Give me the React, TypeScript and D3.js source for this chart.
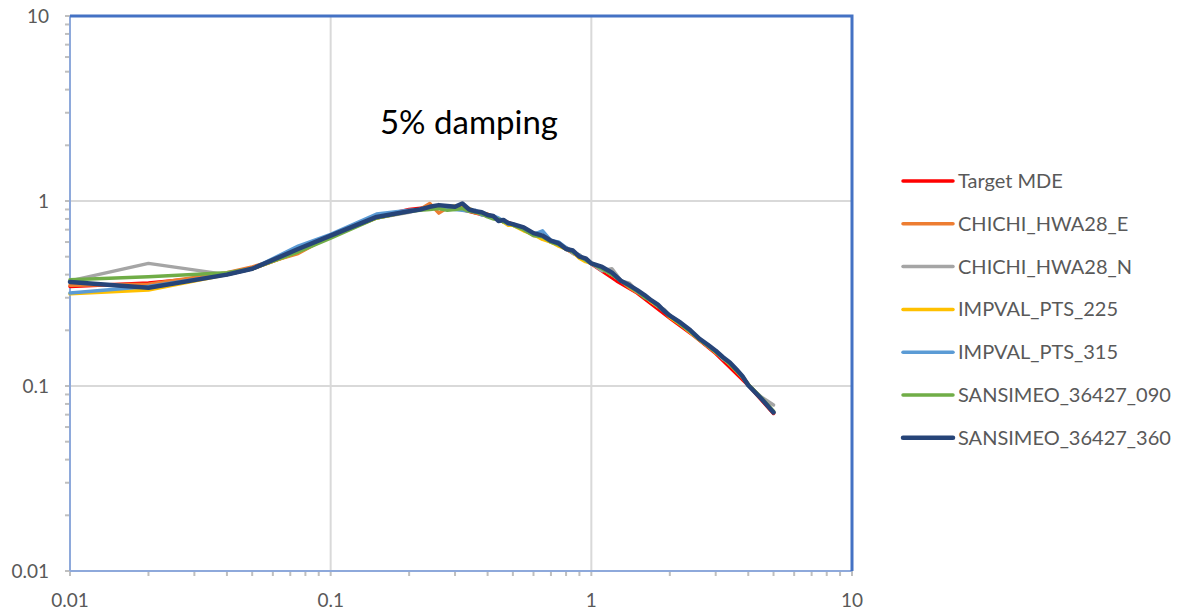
import { useEffect, useRef } from "react";
import * as d3 from "d3";

const W = 1181;
const H = 614;

// shared period grid of the records (s)
const recPeriods = [
  0.01, 0.02, 0.04, 0.05, 0.075, 0.1, 0.15, 0.2,
  0.22, 0.24, 0.26, 0.28, 0.3, 0.32, 0.34, 0.36, 0.38, 0.4, 0.42, 0.44, 0.46, 0.48, 0.5,
  0.55, 0.6, 0.65, 0.7, 0.75, 0.8, 0.85, 0.9, 0.95, 1.0,
  1.1, 1.2, 1.3, 1.4, 1.5, 1.6, 1.7, 1.8, 1.9, 2.0,
  2.2, 2.4, 2.6, 2.8, 3.0, 3.2, 3.4, 3.6, 3.8, 4.0,
  4.5, 5.0,
];

const targetPeriods = [0.01, 0.02, 0.03, 0.04, 0.05, 0.075, 0.1, 0.15, 0.2, 0.25, 0.3, 0.4, 0.5, 0.6, 0.75, 1, 1.25, 1.5, 2, 2.5, 3, 4, 5];
const targetMDE = [0.345, 0.36, 0.38, 0.4, 0.43, 0.53, 0.65, 0.82, 0.9, 0.93, 0.92, 0.83, 0.75, 0.67, 0.58, 0.458, 0.37, 0.318, 0.233, 0.185, 0.15, 0.101, 0.071];

const chichiE = [
  0.35, 0.355, 0.41, 0.44, 0.52, 0.65, 0.81, 0.88,
  0.9, 0.97, 0.86, 0.92, 0.93, 0.92, 0.9, 0.86, 0.86, 0.85, 0.82, 0.8, 0.77, 0.76, 0.74,
  0.7, 0.65, 0.64, 0.6, 0.58, 0.56, 0.53, 0.51, 0.48, 0.46,
  0.43, 0.4, 0.37, 0.34, 0.32, 0.305, 0.29, 0.27, 0.255, 0.24,
  0.215, 0.195, 0.177, 0.164, 0.152, 0.141, 0.131, 0.121, 0.112, 0.102,
  0.086, 0.072,
];
const chichiN = [
  0.37, 0.46, 0.4, 0.43, 0.54, 0.65, 0.81, 0.87,
  0.9, 0.91, 0.92, 0.94, 0.93, 0.92, 0.89, 0.88, 0.85, 0.83, 0.81, 0.8, 0.78, 0.75, 0.75,
  0.7, 0.66, 0.63, 0.6, 0.58, 0.56, 0.52, 0.51, 0.48, 0.46,
  0.42, 0.43, 0.37, 0.36, 0.325, 0.31, 0.285, 0.27, 0.26, 0.24,
  0.22, 0.195, 0.18, 0.165, 0.153, 0.14, 0.133, 0.122, 0.113, 0.101,
  0.087, 0.079,
];
const impval225 = [
  0.315, 0.33, 0.4, 0.43, 0.53, 0.64, 0.81, 0.88,
  0.9, 0.91, 0.93, 0.92, 0.94, 0.92, 0.91, 0.87, 0.85, 0.84, 0.81, 0.79, 0.77, 0.74, 0.74,
  0.69, 0.66, 0.62, 0.6, 0.57, 0.55, 0.53, 0.49, 0.47, 0.46,
  0.43, 0.4, 0.37, 0.345, 0.325, 0.305, 0.285, 0.27, 0.255, 0.235,
  0.215, 0.195, 0.178, 0.165, 0.152, 0.142, 0.131, 0.121, 0.111, 0.102,
  0.086, 0.072,
];
const impval315 = [
  0.318, 0.345, 0.4, 0.43, 0.57, 0.66, 0.85, 0.89,
  0.9, 0.92, 0.92, 0.91, 0.9, 0.89, 0.88, 0.89, 0.84, 0.84, 0.83, 0.81, 0.78, 0.75, 0.75,
  0.71, 0.66, 0.69, 0.61, 0.6, 0.56, 0.53, 0.51, 0.48, 0.46,
  0.43, 0.4, 0.37, 0.35, 0.325, 0.305, 0.29, 0.27, 0.255, 0.24,
  0.22, 0.197, 0.18, 0.165, 0.154, 0.142, 0.132, 0.122, 0.112, 0.101,
  0.086, 0.072,
];
const sansimeo090 = [
  0.375, 0.39, 0.41, 0.43, 0.53, 0.63, 0.81, 0.88,
  0.89, 0.9, 0.91, 0.89, 0.9, 0.91, 0.88, 0.87, 0.85, 0.82, 0.8, 0.8, 0.77, 0.76, 0.74,
  0.7, 0.65, 0.64, 0.6, 0.58, 0.55, 0.53, 0.5, 0.48, 0.46,
  0.43, 0.4, 0.37, 0.345, 0.325, 0.3, 0.29, 0.27, 0.255, 0.24,
  0.215, 0.197, 0.178, 0.165, 0.153, 0.142, 0.131, 0.121, 0.112, 0.102,
  0.086, 0.073,
];
const sansimeo360 = [
  0.365, 0.34, 0.4, 0.43, 0.55, 0.65, 0.82, 0.88,
  0.9, 0.93, 0.95, 0.94, 0.93, 0.97, 0.9, 0.88, 0.87, 0.84, 0.83, 0.78, 0.79, 0.76, 0.75,
  0.72, 0.67, 0.65, 0.61, 0.59, 0.55, 0.54, 0.5, 0.49, 0.46,
  0.44, 0.41, 0.37, 0.35, 0.33, 0.31, 0.29, 0.275, 0.255, 0.24,
  0.22, 0.2, 0.18, 0.167, 0.155, 0.143, 0.134, 0.123, 0.113, 0.101,
  0.085, 0.072,
];

const seriesNames = [
  "Target MDE",
  "CHICHI_HWA28_E",
  "CHICHI_HWA28_N",
  "IMPVAL_PTS_225",
  "IMPVAL_PTS_315",
  "SANSIMEO_36427_090",
  "SANSIMEO_36427_360",
];
const seriesColors = ["#FF0000", "#ED7D31", "#A5A5A5", "#FFC000", "#5B9BD5", "#70AD47", "#264478"];
const seriesWidths = [3.5, 3.5, 3.5, 3.5, 3.5, 3.5, 4.5];

const xTickLabels = ["0.01", "0.1", "1", "10"];
const yTickLabels = ["0.01", "0.1", "1", "10"];

const FONT = "Lato, 'Open Sans', sans-serif";

export default function App() {
  const svgRef = useRef<SVGSVGElement>(null);

  useEffect(() => {
    document.body.style.margin = "0";
    const svgEl = svgRef.current;
    if (!svgEl) return;

    const margin = { top: 16, left: 70, right: 852, bottom: 571 };
    const x = d3.scaleLog().domain([0.01, 10]).range([margin.left, margin.right]);
    const y = d3.scaleLog().domain([0.01, 10]).range([margin.bottom, margin.top]);

    const root = d3.select(svgEl);
    root.selectAll("*").remove();

    const decades = [0.01, 0.1, 1, 10];
    const minors: number[] = [];
    for (const d of [0.01, 0.1, 1]) {
      for (let k = 2; k <= 9; k++) minors.push(d * k);
    }

    // major gridlines
    const grid = root.append("g");
    grid
      .selectAll("line.gx")
      .data(decades.slice(1, 3))
      .join("line")
      .attr("x1", (d) => x(d))
      .attr("x2", (d) => x(d))
      .attr("y1", margin.top)
      .attr("y2", margin.bottom)
      .attr("stroke", "#D9D9D9")
      .attr("stroke-width", 2);
    grid
      .selectAll("line.gy")
      .data(decades.slice(1, 3))
      .join("line")
      .attr("x1", margin.left)
      .attr("x2", margin.right)
      .attr("y1", (d) => y(d))
      .attr("y2", (d) => y(d))
      .attr("stroke", "#D9D9D9")
      .attr("stroke-width", 2);

    // tick marks
    const ticks = root.append("g").attr("stroke", "#BFBFBF").attr("stroke-width", 2);
    ticks
      .selectAll("line.tx")
      .data([...decades, ...minors])
      .join("line")
      .attr("x1", (d) => x(d))
      .attr("x2", (d) => x(d))
      .attr("y1", margin.bottom)
      .attr("y2", margin.bottom + 5);
    ticks
      .selectAll("line.ty")
      .data([...decades, ...minors])
      .join("line")
      .attr("x1", margin.left - 5)
      .attr("x2", margin.left)
      .attr("y1", (d) => y(d))
      .attr("y2", (d) => y(d));

    // axis lines
    root
      .append("line")
      .attr("x1", margin.left)
      .attr("x2", margin.left)
      .attr("y1", margin.top)
      .attr("y2", margin.bottom)
      .attr("stroke", "#8EA9DB")
      .attr("stroke-width", 2);
    root
      .append("line")
      .attr("x1", margin.left)
      .attr("x2", margin.right)
      .attr("y1", margin.bottom)
      .attr("y2", margin.bottom)
      .attr("stroke", "#8EA9DB")
      .attr("stroke-width", 2);

    // series
    const data = [
      { p: targetPeriods, v: targetMDE },
      { p: recPeriods, v: chichiE },
      { p: recPeriods, v: chichiN },
      { p: recPeriods, v: impval225 },
      { p: recPeriods, v: impval315 },
      { p: recPeriods, v: sansimeo090 },
      { p: recPeriods, v: sansimeo360 },
    ];
    const line = d3
      .line<[number, number]>()
      .x((d) => x(d[0]))
      .y((d) => y(d[1]));
    const lines = root.append("g").attr("fill", "none").attr("stroke-linejoin", "round").attr("stroke-linecap", "round");
    data.forEach((s, i) => {
      lines
        .append("path")
        .attr("d", line(s.p.map((p, j) => [p, s.v[j]] as [number, number])))
        .attr("stroke", seriesColors[i])
        .attr("stroke-width", seriesWidths[i]);
    });

    // top and right border
    root
      .append("path")
      .attr("d", `M${margin.left},${margin.top}H${margin.right}V${margin.bottom}`)
      .attr("fill", "none")
      .attr("stroke", "#4472C4")
      .attr("stroke-width", 3);

    // tick labels
    root
      .append("g")
      .selectAll("text")
      .data(decades)
      .join("text")
      .attr("x", (d) => x(d))
      .attr("y", 607)
      .attr("text-anchor", "middle")
      .attr("font-family", FONT)
      .attr("font-size", 19)
      .attr("fill", "#595959")
      .text((_, i) => xTickLabels[i]);
    root
      .append("g")
      .selectAll("text")
      .data(decades)
      .join("text")
      .attr("x", 49)
      .attr("y", (d) => y(d))
      .attr("dy", "0.35em")
      .attr("text-anchor", "end")
      .attr("font-family", FONT)
      .attr("font-size", 19)
      .attr("fill", "#595959")
      .text((_, i) => yTickLabels[i]);

    // annotation
    root
      .append("text")
      .attr("x", 469)
      .attr("y", 134)
      .attr("text-anchor", "middle")
      .attr("font-family", FONT)
      .attr("font-size", 33)
      .attr("fill", "#000")
      .text("5% damping");

    // legend
    const leg = root
      .append("g")
      .selectAll("g")
      .data(seriesNames)
      .join("g")
      .attr("transform", (_, i) => `translate(903,${181 + i * 42.8})`);
    leg
      .append("line")
      .attr("x1", 0)
      .attr("x2", 50)
      .attr("stroke", (_, i) => seriesColors[i])
      .attr("stroke-width", (_, i) => seriesWidths[i])
      .attr("stroke-linecap", "round");
    leg
      .append("text")
      .attr("x", 55)
      .attr("dy", "0.35em")
      .attr("font-family", FONT)
      .attr("font-size", 20)
      .attr("fill", "#595959")
      .text((d) => d);
  }, []);

  return <svg ref={svgRef} width={W} height={H} style={{ display: "block", background: "#fff" }} />;
}
